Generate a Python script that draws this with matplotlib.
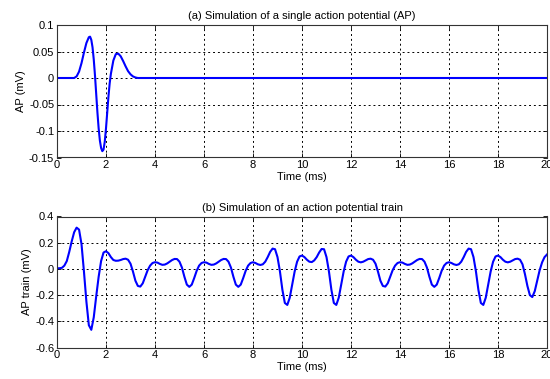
import numpy as np
import matplotlib
matplotlib.use("Agg")
import matplotlib.pyplot as plt

plt.rcParams['font.family'] = ['Liberation Sans', 'DejaVu Sans']

# (a) single action potential
ap_time = [0.0, 0.7, 0.8, 0.9, 1.0, 1.1, 1.2, 1.3, 1.35, 1.4, 1.45, 1.5, 1.55, 1.6, 1.65,
           1.7, 1.75, 1.8, 1.85, 1.9, 1.95, 2.0, 2.05, 2.1, 2.15, 2.2, 2.3, 2.4, 2.5,
           2.6, 2.7, 2.8, 2.9, 3.0, 3.1, 3.2, 3.3, 20.0]
ap_values = [0.0, 0.0, 0.003, 0.012, 0.028, 0.048, 0.066, 0.077, 0.078, 0.072, 0.058,
             0.035, 0.005, -0.03, -0.065, -0.095, -0.118, -0.132, -0.138, -0.135,
             -0.12, -0.095, -0.065, -0.035, -0.01, 0.008, 0.033, 0.045, 0.046,
             0.041, 0.032, 0.022, 0.013, 0.007, 0.003, 0.001, 0.0, 0.0]

# (b) action potential train, sampled every 0.1 ms from 0 to 20 ms
train_values = [
    0.005, 0.005, 0.008, 0.025, 0.06, 0.13, 0.21, 0.28, 0.315, 0.30,      # 0.0-0.9
    0.19, -0.02, -0.25, -0.43, -0.465, -0.37, -0.21, -0.06, 0.06, 0.125,   # 1.0-1.9
    0.135, 0.12, 0.09, 0.068, 0.062, 0.063, 0.068, 0.075, 0.078, 0.07,     # 2.0-2.9
    0.04, -0.02, -0.09, -0.13, -0.135, -0.11, -0.06, -0.01, 0.025, 0.045,  # 3.0-3.9
    0.051, 0.048, 0.038, 0.031, 0.033, 0.042, 0.055, 0.068, 0.076, 0.075, # 4.0-4.9
    0.055, 0.01, -0.06, -0.12, -0.137, -0.12, -0.07, -0.015, 0.025, 0.045, # 5.0-5.9
    0.051, 0.048, 0.038, 0.031, 0.033, 0.042, 0.055, 0.068, 0.076, 0.075, # 6.0-6.9
    0.055, 0.01, -0.06, -0.12, -0.137, -0.12, -0.07, -0.015, 0.025, 0.045, # 7.0-7.9
    0.051, 0.045, 0.035, 0.03, 0.035, 0.055, 0.09, 0.13, 0.155, 0.15,      # 8.0-8.9
    0.09, -0.02, -0.16, -0.26, -0.275, -0.22, -0.12, -0.02, 0.055, 0.095,  # 9.0-9.9
    0.102, 0.09, 0.07, 0.055, 0.052, 0.065, 0.09, 0.125, 0.152, 0.15,      # 10.0-10.9
    0.09, -0.02, -0.16, -0.26, -0.275, -0.22, -0.12, -0.02, 0.055, 0.095,  # 11.0-11.9
    0.102, 0.09, 0.07, 0.055, 0.05, 0.055, 0.065, 0.075, 0.078, 0.07,      # 12.0-12.9
    0.04, -0.02, -0.09, -0.13, -0.135, -0.11, -0.06, -0.01, 0.025, 0.045,  # 13.0-13.9
    0.051, 0.048, 0.038, 0.031, 0.033, 0.042, 0.055, 0.068, 0.076, 0.075, # 14.0-14.9
    0.055, 0.01, -0.06, -0.12, -0.137, -0.12, -0.07, -0.015, 0.025, 0.045, # 15.0-15.9
    0.051, 0.045, 0.035, 0.03, 0.035, 0.055, 0.09, 0.13, 0.155, 0.15,      # 16.0-16.9
    0.09, -0.02, -0.16, -0.26, -0.275, -0.22, -0.12, -0.02, 0.055, 0.095,  # 17.0-17.9
    0.102, 0.09, 0.07, 0.055, 0.05, 0.055, 0.065, 0.075, 0.078, 0.07,      # 18.0-18.9
    0.035, -0.04, -0.13, -0.2, -0.215, -0.17, -0.09, -0.01, 0.05, 0.09,    # 19.0-19.9
    0.11,                                                                  # 20.0
]
train_time = np.round(np.arange(len(train_values)) * 0.1, 1)

x_ticks = [0, 2, 4, 6, 8, 10, 12, 14, 16, 18, 20]
ap_yticks = [-0.15, -0.1, -0.05, 0, 0.05, 0.1]
ap_yticklabels = ['-0.15', '-0.1', '-0.05', '0', '0.05', '0.1']
train_yticks = [-0.6, -0.4, -0.2, 0, 0.2, 0.4]
train_yticklabels = ['-0.6', '-0.4', '-0.2', '0', '0.2', '0.4']

fig = plt.figure(figsize=(5.5, 3.79), dpi=100)
W, H = 550, 379
ax1 = fig.add_axes([57 / W, 1 - 157.5 / H, 490 / W, 132.5 / H])
ax2 = fig.add_axes([57 / W, 1 - 347.5 / H, 490 / W, 131 / H])

fs = 8
line_color = (0, 0, 1)

def style(ax):
    ax.set_xlim(0, 20)
    ax.set_xticks(x_ticks)
    ax.set_xticklabels([str(t) for t in x_ticks])
    ax.grid(True, color='black', linestyle=(0, (2, 3)), linewidth=0.7)
    ax.tick_params(direction='in', length=3, width=0.6, labelsize=fs,
                   top=True, right=True, pad=2)
    for s in ax.spines.values():
        s.set_linewidth(0.8)
        s.set_color('#333333')
    ax.set_xlabel('Time (ms)', fontsize=fs, labelpad=1)

ax1.plot(ap_time, ap_values, color=line_color, linewidth=1.5)
ax1.set_ylim(-0.15, 0.1)
ax1.set_yticks(ap_yticks)
ax1.set_yticklabels(ap_yticklabels)
ax1.set_ylabel('AP (mV)', fontsize=fs, labelpad=2)
ax1.set_title('(a) Simulation of a single action potential (AP)', fontsize=fs, pad=4)
style(ax1)

ax2.plot(train_time, train_values, color=line_color, linewidth=1.5)
ax2.set_ylim(-0.6, 0.4)
ax2.set_yticks(train_yticks)
ax2.set_yticklabels(train_yticklabels)
ax2.set_ylabel('AP train (mV)', fontsize=fs, labelpad=2)
ax2.set_title('(b) Simulation of an action potential train', fontsize=fs, pad=4)
style(ax2)

fig.savefig('out.png', dpi=100)
